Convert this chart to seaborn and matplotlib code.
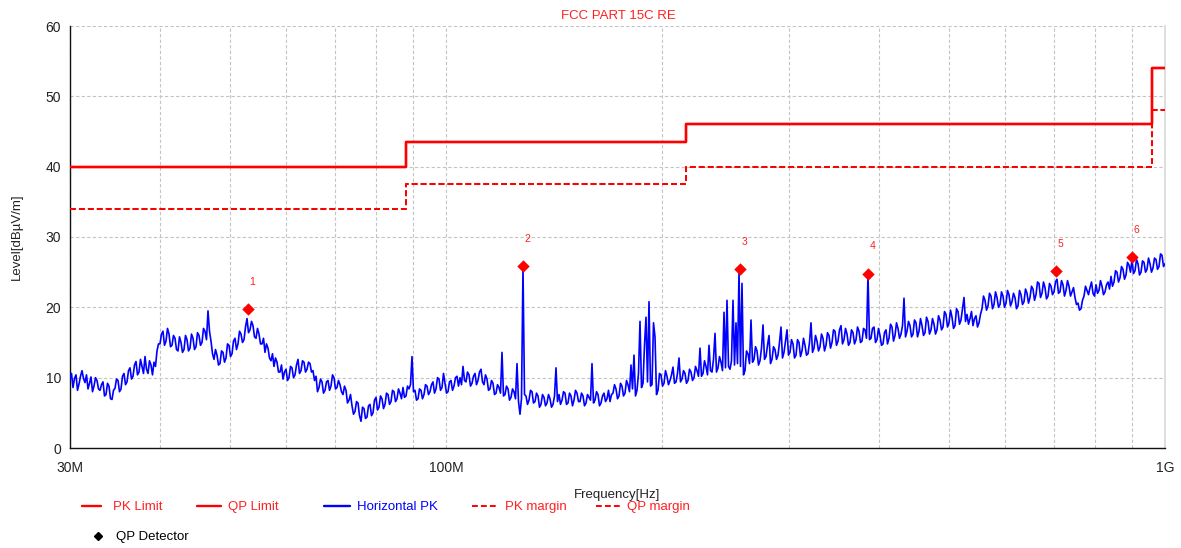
import numpy as np
import matplotlib
matplotlib.use("Agg")
import matplotlib.pyplot as plt
from matplotlib.lines import Line2D
from matplotlib.ticker import FixedLocator, FixedFormatter, NullFormatter
import seaborn as sns

# ---- scan range -------------------------------------------------------------
f_start_hz = 30e6
f_stop_hz = 1e9

# Horizontal polarisation, peak detector sweep (dBuV/m), log-spaced points
horizontal_pk = [
    9.8, 10.6, 8.6, 9.9, 10.4, 8.2, 9.1, 10.2, 11.0, 9.9, 9.3, 10.4, 8.4, 9.2, 10.1, 8.0, 8.8, 10.0, 9.6, 8.4,
    8.2, 9.0, 9.4, 7.4, 7.6, 9.2, 8.8, 7.0, 6.9, 8.2, 8.5, 9.8, 9.6, 8.0, 8.4, 10.2, 10.6, 9.0, 9.4, 11.0,
    11.4, 9.8, 10.2, 11.8, 12.3, 10.4, 10.8, 12.6, 11.6, 10.6, 13.0, 11.2, 10.6, 12.4, 11.8, 10.4, 12.2, 11.6, 13.8, 14.8,
    14.8, 16.2, 16.6, 14.6, 15.2, 17.0, 16.2, 14.4, 14.6, 16.0, 15.6, 14.0, 13.8, 15.8, 15.0, 13.6, 14.0, 16.0, 15.4, 13.8,
    14.2, 16.2, 15.6, 14.0, 14.4, 16.4, 16.0, 14.6, 15.0, 17.0, 16.6, 15.4, 19.5, 16.6, 15.2, 13.4, 12.6, 14.0, 13.2, 11.8,
    12.0, 13.8, 13.6, 12.2, 12.8, 14.8, 14.6, 13.0, 13.4, 15.2, 15.6, 14.0, 14.8, 16.6, 16.2, 15.0, 15.4, 17.2, 18.4, 16.4,
    16.8, 18.0, 17.4, 15.8, 15.6, 17.0, 16.2, 14.8, 14.8, 15.6, 13.6, 14.8, 14.2, 12.8, 12.4, 13.4, 11.6, 12.8, 12.2, 10.8,
    10.8, 11.8, 9.8, 10.8, 11.2, 9.6, 10.0, 11.6, 11.4, 10.0, 10.4, 11.8, 12.6, 10.6, 11.0, 12.4, 12.2, 10.8, 11.2, 12.2,
    12.0, 10.8, 11.0, 9.6, 10.2, 8.0, 8.6, 9.8, 9.4, 7.8, 8.2, 9.4, 9.6, 8.2, 8.8, 10.4, 10.0, 8.4, 8.6, 9.6,
    9.0, 8.0, 7.6, 8.8, 8.2, 6.4, 6.8, 7.6, 6.0, 4.8, 5.2, 6.6, 6.4, 4.6, 3.8, 5.8, 5.6, 4.2, 4.4, 6.0,
    6.2, 4.6, 5.0, 6.8, 7.2, 5.4, 5.8, 7.4, 7.0, 5.6, 6.2, 7.8, 7.6, 6.2, 6.6, 8.2, 8.0, 6.6, 7.0, 8.4,
    7.8, 7.0, 8.6, 7.2, 7.4, 8.8, 8.4, 9.0, 13.0, 8.0, 8.2, 6.8, 7.0, 8.4, 8.2, 7.0, 7.6, 9.0, 8.8, 7.6,
    8.0, 9.0, 9.4, 7.8, 8.4, 10.0, 9.8, 8.2, 8.6, 10.6, 9.2, 7.8, 8.0, 9.4, 9.6, 8.2, 8.8, 10.0, 10.2, 8.8,
    10.0, 9.0, 11.6, 9.6, 9.4, 10.8, 10.4, 8.8, 9.2, 10.2, 10.6, 9.0, 9.6, 10.8, 11.2, 9.4, 9.0, 10.4, 9.8, 8.2,
    8.4, 9.6, 9.2, 7.6, 7.8, 9.0, 8.6, 7.8, 13.6, 7.4, 7.6, 8.8, 8.4, 6.8, 7.2, 8.4, 8.0, 7.0, 12.0, 6.6,
    4.8, 7.0, 25.6, 7.6, 7.4, 6.2, 6.8, 8.2, 8.0, 6.4, 6.6, 7.8, 7.4, 5.8, 6.2, 7.6, 7.2, 6.0, 6.4, 7.6,
    7.0, 5.8, 6.2, 7.4, 11.4, 6.6, 7.6, 6.2, 6.8, 8.0, 7.8, 6.2, 6.4, 7.8, 7.4, 6.0, 6.8, 8.2, 7.8, 6.6,
    6.6, 7.8, 7.4, 6.0, 6.4, 7.6, 7.2, 6.8, 12.0, 6.4, 6.8, 8.0, 7.6, 6.0, 6.4, 7.4, 7.8, 6.6, 7.0, 8.2,
    6.6, 7.6, 7.8, 9.0, 8.4, 7.0, 7.4, 9.2, 8.8, 7.4, 7.8, 9.6, 9.0, 8.0, 11.8, 8.4, 13.2, 7.4, 8.2, 10.6,
    18.0, 8.6, 9.2, 14.6, 18.6, 9.4, 20.8, 8.8, 9.0, 17.8, 15.8, 7.6, 8.2, 10.6, 10.4, 8.8, 9.2, 11.0, 10.2, 9.0,
    9.6, 10.4, 11.5, 9.2, 9.4, 10.6, 12.8, 9.4, 9.8, 11.0, 10.6, 9.2, 9.6, 11.2, 10.8, 9.6, 10.0, 11.6, 11.0, 10.2,
    14.2, 10.2, 10.6, 12.4, 11.6, 10.4, 14.6, 11.0, 10.8, 12.6, 16.3, 10.8, 11.4, 13.0, 12.2, 11.0, 19.3, 11.4, 21.0, 11.6,
    11.2, 12.4, 21.0, 11.8, 17.8, 12.0, 25.0, 11.6, 23.4, 10.4, 11.0, 13.8, 13.4, 12.0, 18.2, 12.2, 12.6, 14.4, 13.8, 11.8,
    12.4, 14.2, 17.5, 12.6, 13.0, 14.6, 16.0, 12.0, 12.6, 14.4, 14.0, 12.6, 13.2, 15.0, 17.2, 12.8, 13.6, 15.2, 16.8, 13.2,
    13.6, 15.4, 14.8, 12.8, 13.2, 15.4, 15.0, 13.0, 13.8, 15.6, 14.6, 13.2, 13.4, 15.0, 17.8, 13.6, 14.2, 16.0, 15.2, 13.8,
    14.4, 16.2, 15.6, 13.8, 14.6, 16.4, 16.0, 14.2, 15.0, 16.8, 16.6, 14.6, 15.2, 16.8, 17.4, 14.8, 15.4, 17.0, 16.2, 14.6,
    15.0, 16.8, 16.4, 14.8, 15.4, 17.2, 16.6, 15.0, 15.2, 17.0, 16.8, 15.6, 24.6, 15.4, 15.6, 17.0, 17.2, 15.0, 15.4, 17.0,
    16.0, 14.6, 14.8, 16.4, 16.8, 14.8, 15.6, 17.6, 17.2, 15.2, 16.0, 17.8, 17.0, 15.6, 16.2, 17.4, 21.3, 15.8, 16.6, 18.0,
    17.4, 15.8, 16.2, 18.2, 17.8, 15.8, 16.6, 18.4, 17.4, 16.0, 16.4, 18.6, 18.0, 16.2, 16.8, 18.4, 17.6, 16.2, 16.8, 18.8,
    18.2, 16.8, 17.2, 19.4, 19.0, 17.2, 17.8, 19.6, 18.6, 17.0, 17.4, 19.8, 19.4, 17.6, 18.2, 19.8, 21.4, 18.0, 19.0, 17.6,
    18.4, 19.4, 17.4, 18.4, 18.8, 17.2, 17.8, 19.0, 19.8, 21.6, 21.0, 19.6, 20.2, 22.0, 21.6, 19.8, 20.4, 22.2, 21.4, 20.0,
    20.4, 22.2, 21.6, 20.0, 20.6, 22.4, 21.8, 20.2, 20.8, 22.0, 21.4, 19.8, 20.2, 22.4, 21.8, 20.4, 20.8, 22.6, 22.0, 20.6,
    21.4, 23.0, 22.6, 21.0, 21.8, 23.6, 23.4, 21.4, 22.0, 23.6, 22.8, 21.2, 21.6, 23.4, 23.0, 21.8, 22.2, 23.6, 24.0, 22.0,
    22.2, 23.8, 23.2, 21.6, 22.4, 23.8, 23.0, 21.6, 22.2, 22.8, 21.4, 20.4, 20.6, 19.6, 19.8, 21.0, 21.6, 23.0, 22.4, 21.8,
    22.8, 23.6, 22.0, 21.6, 23.2, 22.0, 22.4, 23.8, 23.0, 21.8, 22.2, 23.2, 23.6, 22.6, 24.4, 23.0, 23.6, 25.2, 25.0, 23.6,
    24.2, 25.8, 25.4, 24.0, 24.6, 26.4, 26.0, 25.0, 26.8, 24.8, 25.2, 26.8, 26.2, 24.6, 25.0, 26.6, 26.4, 25.0, 25.4, 27.0,
    26.2, 25.0, 25.6, 27.0, 26.8, 25.4, 25.8, 27.6, 27.4, 25.8, 26.2,
]
scan_freq_hz = np.geomspace(f_start_hz, f_stop_hz, len(horizontal_pk))

# ---- FCC Part 15 class B limits (3 m) ----------------------------------------
limit_edges_mhz = [30, 88, 216, 960, 1000]
pk_limit = [40.0, 43.5, 46.0, 54.0]
qp_limit = [40.0, 43.5, 46.0, 54.0]
pk_margin = [34.0, 37.5, 40.0, 48.0]
qp_margin = [34.0, 37.5, 40.0, 48.0]

# ---- quasi-peak final measurements -------------------------------------------
qp_freq_mhz = [53.0, 128.0, 256.0, 386.0, 705.0, 900.0]
qp_level = [19.8, 25.9, 25.5, 24.8, 25.2, 27.2]
qp_ids = ["1", "2", "3", "4", "5", "6"]

# ---- axis ticks --------------------------------------------------------------
x_major_hz = [30e6, 100e6, 1e9]
x_major_labels = ["30M", "100M", "1G"]
x_minor_hz = [40e6, 50e6, 60e6, 70e6, 80e6, 90e6,
              200e6, 300e6, 400e6, 500e6, 600e6, 700e6, 800e6, 900e6]
y_ticks = [0, 10, 20, 30, 40, 50, 60]

# ---- styling -----------------------------------------------------------------
sns.set_style("white")
plt.rcParams["font.family"] = ["Liberation Sans", "DejaVu Sans"]

RED = "#ff0000"
RED_TXT = "#ff2020"
BLUE = "#0000ff"
GRID = "#c4c4c4"
TXT = "#222222"

W, H = 1181, 548
fig = plt.figure(figsize=(W / 100, H / 100), dpi=100)
ax = fig.add_axes([70 / W, 1 - 448 / H, 1095 / W, 422 / H])

# measured sweep
sns.lineplot(x=scan_freq_hz, y=horizontal_pk, ax=ax, color=BLUE,
             linewidth=1.2, legend=False, zorder=3, sort=False)

# limit lines as steps
edges_hz = np.array(limit_edges_mhz) * 1e6


def step_values(vals):
    return list(vals) + [vals[-1]]


ax.step(edges_hz, step_values(qp_limit), where="post", color=RED, lw=1.7, zorder=4)
ax.step(edges_hz, step_values(pk_limit), where="post", color=RED, lw=1.7, zorder=4)
ax.step(edges_hz, step_values(qp_margin), where="post", color=RED, lw=1.4,
        linestyle=(0, (3, 1.6)), zorder=4)
ax.step(edges_hz, step_values(pk_margin), where="post", color=RED, lw=1.4,
        linestyle=(0, (3, 1.6)), zorder=4)

# QP detector points and their index numbers
qp_freq_hz = np.array(qp_freq_mhz) * 1e6
sns.scatterplot(x=qp_freq_hz, y=qp_level, ax=ax, marker="D", color=RED,
                s=40, edgecolor=RED, linewidth=0, zorder=5, legend=False)
for f, lv, tag in zip(qp_freq_hz, qp_level, qp_ids):
    ax.annotate(tag, xy=(f, lv), xytext=(3.3, 19.5), textcoords="offset points",
                ha="center", va="center", fontsize=7.5, color=RED_TXT)

# axes
ax.set_xscale("log")
ax.set_xlim(f_start_hz, f_stop_hz)
ax.set_ylim(0, 60)
ax.xaxis.set_major_locator(FixedLocator(x_major_hz))
ax.xaxis.set_major_formatter(FixedFormatter(x_major_labels))
ax.xaxis.set_minor_locator(FixedLocator(x_minor_hz))
ax.xaxis.set_minor_formatter(NullFormatter())
ax.set_yticks(y_ticks)

ax.grid(True, which="both", color=GRID, linestyle=(0, (3, 2)), linewidth=0.8)
ax.set_axisbelow(True)

ax.spines["top"].set_visible(False)
ax.spines["right"].set_color("#d8d8d8")
ax.spines["right"].set_linewidth(1.2)
ax.spines["left"].set_color("#111111")
ax.spines["bottom"].set_color("#111111")
ax.spines["left"].set_linewidth(1.0)
ax.spines["bottom"].set_linewidth(1.0)

ax.tick_params(axis="y", direction="inout", length=10, width=1.0,
               pad=1.5, labelsize=10, labelcolor=TXT, color="#111111")
ax.tick_params(axis="x", which="both", direction="in", length=7, width=1.0,
               pad=9, labelsize=10, labelcolor=TXT, color="#111111",
               top=False)
ax.tick_params(axis="y", right=False)

ax.set_xlabel("Frequency[Hz]", fontsize=9.5, color=TXT)
ax.xaxis.set_label_coords(0.5, -0.097)
ax.set_ylabel("Level[dB\u00b5V/m]", fontsize=9.5, color=TXT)
ax.yaxis.set_label_coords(-0.043, 0.5)

fig.text(618 / W, 1 - 16 / H, "FCC PART 15C RE", ha="center", va="center",
         fontsize=9.5, color=RED_TXT)

# legend keys placed along the bottom
FS = 9.5
EM = FS * 100 / 72


def add_key(handle, label, x_line, line_len, gap, y_px, color):
    fig.legend(handles=[handle], labels=[label], loc="center left",
               bbox_to_anchor=(x_line / W, 1 - y_px / H), frameon=False,
               borderpad=0, borderaxespad=0, handlelength=line_len / EM,
               handletextpad=gap / EM, fontsize=FS, labelcolor=color)


solid = Line2D([], [], color=RED, lw=1.7)
dashed = Line2D([], [], color=RED, lw=1.4, linestyle=(0, (3, 1.6)))
blue_line = Line2D([], [], color=BLUE, lw=1.7)
diamond = Line2D([], [], color="black", marker="D", markersize=4, linestyle="None")

add_key(solid, "PK Limit", 82, 19, 12, 507, RED_TXT)
add_key(solid, "QP Limit", 197, 24, 7, 507, RED_TXT)
add_key(blue_line, "Horizontal PK", 324, 26, 7, 507, BLUE)
add_key(dashed, "PK margin", 472, 24, 9, 507, RED_TXT)
add_key(dashed, "QP margin", 596, 24, 7, 507, RED_TXT)
add_key(diamond, "QP Detector", 91, 13, 12, 537, "black")

fig.savefig("out.png", dpi=100)
